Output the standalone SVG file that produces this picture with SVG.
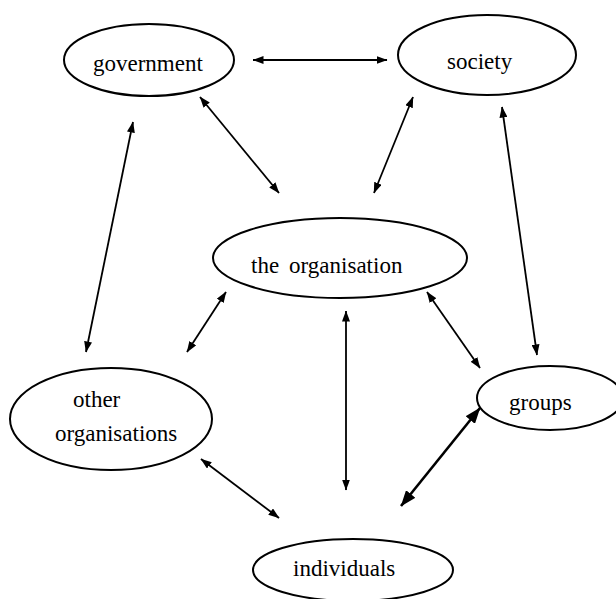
<svg xmlns="http://www.w3.org/2000/svg" width="616" height="599" viewBox="0 0 616 599">
<style>
.node ellipse{fill:#fff;stroke:#000;stroke-width:2}
.node text{font-family:'Liberation Serif','Times New Roman',serif;font-size:23px;fill:#000}
.conn line{stroke:#000;stroke-width:1.8;marker-start:url(#ah);marker-end:url(#ah)}
.conn line.big{stroke-width:2.6;marker-start:url(#ahb);marker-end:url(#ahb)}
</style>
<defs>
<marker id="ah" viewBox="0 0 11 8" refX="10.5" refY="4" markerWidth="11" markerHeight="8" markerUnits="userSpaceOnUse" orient="auto-start-reverse"><path d="M0,0 L11,4 L0,8 z" fill="#000"/></marker>
<marker id="ahb" viewBox="0 0 16 12" refX="15.5" refY="6" markerWidth="16" markerHeight="12" markerUnits="userSpaceOnUse" orient="auto-start-reverse"><path d="M0,0 L16,6 L0,12 z" fill="#000"/></marker>
</defs>
<rect width="616" height="599" fill="#fff"/>
<g id="connectors" class="conn">
<line x1="253" y1="60" x2="387" y2="60"/>
<line x1="200" y1="97" x2="279" y2="193"/>
<line x1="413" y1="97" x2="374" y2="193"/>
<line x1="133" y1="122" x2="86" y2="352"/>
<line x1="502" y1="107" x2="537" y2="355"/>
<line x1="226" y1="292" x2="187" y2="352"/>
<line x1="346" y1="311" x2="346" y2="490"/>
<line x1="427" y1="292" x2="480" y2="368"/>
<line x1="201" y1="459" x2="279" y2="518"/>
<line class="big" x1="480" y1="408" x2="401" y2="506"/>
</g>
<g id="government" class="node">
<ellipse cx="149" cy="60" rx="85" ry="36"/>
<text x="93" y="71">government</text>
</g>
<g id="society" class="node">
<ellipse cx="487" cy="55" rx="89" ry="40"/>
<text x="447" y="69">society</text>
</g>
<g id="the-organisation" class="node">
<ellipse cx="340" cy="258" rx="127" ry="40"/>
<text x="251" y="273">the<tspan dx="10">organisation</tspan></text>
</g>
<g id="other-organisations" class="node">
<ellipse cx="111" cy="419" rx="101" ry="51"/>
<text x="73" y="407">other</text>
<text x="55" y="441">organisations</text>
</g>
<g id="groups" class="node">
<ellipse cx="550" cy="398" rx="73" ry="32"/>
<text x="509" y="410">groups</text>
</g>
<g id="individuals" class="node">
<ellipse cx="353" cy="570" rx="100" ry="31"/>
<text x="293" y="576">individuals</text>
</g>
</svg>
